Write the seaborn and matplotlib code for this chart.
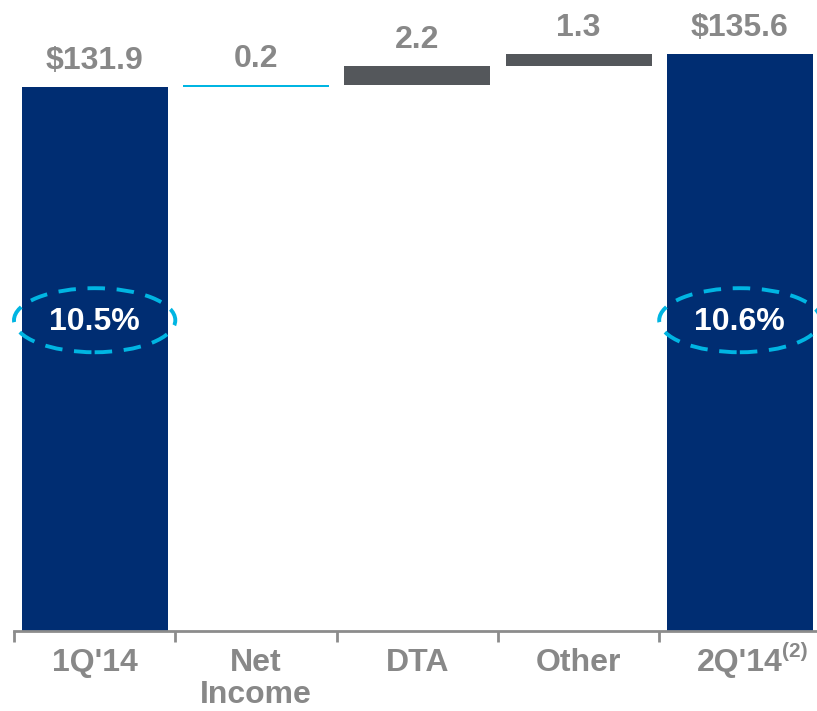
import matplotlib.pyplot as plt
from matplotlib.patches import Ellipse
import seaborn as sns

# waterfall data ($B)
categories = ["1Q'14", "Net\nIncome", "DTA", "Other", "2Q'14"]
start_value = 131.9
changes = [0.2, 2.2, 1.3]
end_value = 135.6
value_labels = ["$131.9", "0.2", "2.2", "1.3", "$135.6"]
ratios = ["10.5%", "10.6%"]

bar_colors = ["#002D72", "#00B5E2", "#54575B", "#54575B", "#002D72"]
text_gray = "#888888"
cyan = "#00B5E2"

# cumulative tops / bottoms
tops = [start_value]
bottoms = [0]
running = start_value
for c in changes:
    bottoms.append(running)
    running += c
    tops.append(running)
tops.append(end_value)
bottoms.append(0)

sns.set_style("white")
plt.rcParams["font.family"] = ["Liberation Sans", "DejaVu Sans"]
plt.rcParams["font.weight"] = "bold"

fig = plt.figure(figsize=(8.17, 7.11), dpi=100)
ax = fig.add_axes([14 / 817, 80 / 711, 806.5 / 817, 631 / 711])

sns.barplot(x=categories, y=tops, hue=categories, palette=bar_colors,
            legend=False, width=0.905, linewidth=0, saturation=1, ax=ax)
# blank out the part under the floating bars
sns.barplot(x=categories, y=bottoms, color="white", width=0.905,
            linewidth=0, saturation=1, ax=ax)

ax.set_xlim(-0.5, 4.5)
ax.set_ylim(70.78, 141.68)

for i, lab in enumerate(value_labels):
    ax.annotate(lab, xy=(i, tops[i]), xytext=(0, 13), textcoords="offset points",
                ha="center", va="baseline", fontsize=23, fontweight="bold",
                color=text_gray)

# dashed rings with capital ratios
for x, r in zip([0, 4], ratios):
    ax.add_patch(Ellipse((x, 105.7), width=1.0, height=7.2, fill=False,
                         edgecolor=cyan, lw=2.8, linestyle=(0, (4.5, 3)),
                         clip_on=False, zorder=5))
    ax.text(x, 105.5, r, ha="center", va="center", fontsize=23,
            fontweight="bold", color="white", zorder=6)

sns.despine(ax=ax, left=True)
ax.spines["bottom"].set_color("#8c8c8c")
ax.spines["bottom"].set_linewidth(2)
ax.set_yticks([])
ax.set_xticks(range(len(categories)))
ax.set_xticklabels([c for c in categories], fontsize=23, fontweight="bold",
                   color=text_gray, linespacing=1.1)
ax.set_xticks([-0.5, 0.5, 1.5, 2.5, 3.5], minor=True)
ax.tick_params(axis="x", which="major", length=0, pad=12)
ax.tick_params(axis="x", which="minor", length=8, width=2, color="#8c8c8c",
               direction="out", bottom=True)
ax.annotate("(2)", xy=(4, 0), xycoords=("data", "axes fraction"),
            xytext=(30, -8), textcoords="offset points", ha="left", va="top",
            fontsize=15, fontweight="bold", color=text_gray)
ax.set_xlabel("")

fig.savefig("out.png", dpi=100)
